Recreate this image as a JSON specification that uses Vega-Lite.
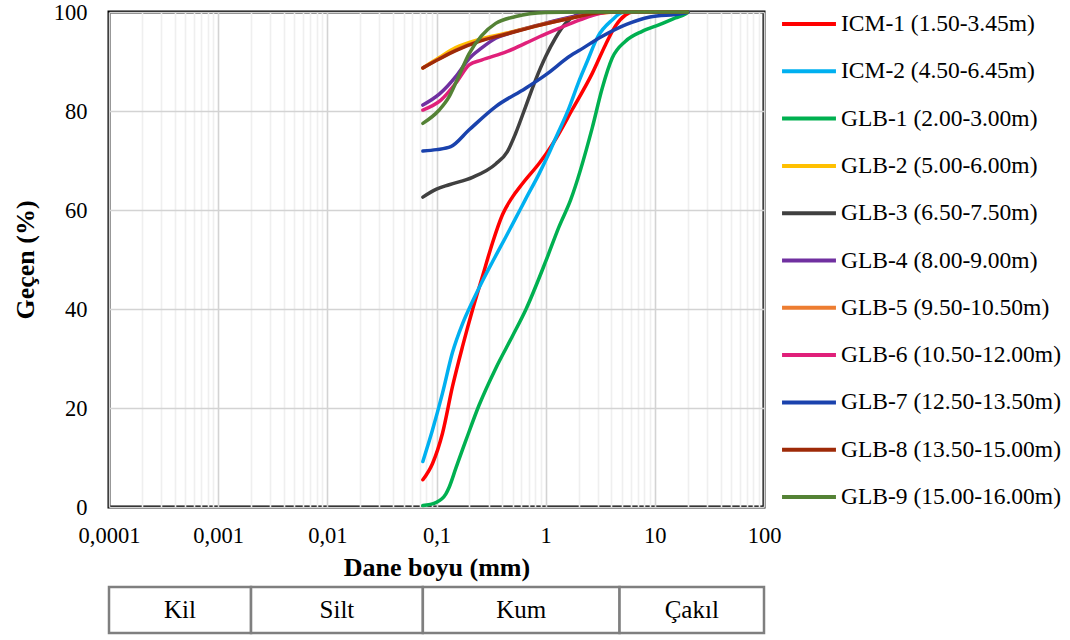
{
  "$schema": "https://vega.github.io/schema/vega-lite/v6.json",
  "background": "white",
  "padding": {"left": 10, "top": -2, "right": 5, "bottom": 5},
  "config": {
    "font": "Liberation Serif",
    "axis": {"labelFont": "Liberation Serif", "titleFont": "Liberation Serif", "labelColor": "#000", "titleColor": "#000"},
    "legend": {"labelFont": "Liberation Serif", "labelColor": "#000"}
  },
  "spacing": 3,
  "vconcat": [
    {
      "width": 655,
      "height": 495,
      "view": {"stroke": "#000", "strokeWidth": 3},
      "data": {"values": [
        {"s": "ICM-1 (1.50-3.45m)", "d": 0.075, "p": 5.5},
        {"s": "ICM-1 (1.50-3.45m)", "d": 0.092, "p": 8.8},
        {"s": "ICM-1 (1.50-3.45m)", "d": 0.1135, "p": 14.9},
        {"s": "ICM-1 (1.50-3.45m)", "d": 0.14, "p": 24.3},
        {"s": "ICM-1 (1.50-3.45m)", "d": 0.173, "p": 32.4},
        {"s": "ICM-1 (1.50-3.45m)", "d": 0.2135, "p": 39.8},
        {"s": "ICM-1 (1.50-3.45m)", "d": 0.263, "p": 46.5},
        {"s": "ICM-1 (1.50-3.45m)", "d": 0.325, "p": 53.3},
        {"s": "ICM-1 (1.50-3.45m)", "d": 0.401, "p": 59.0},
        {"s": "ICM-1 (1.50-3.45m)", "d": 0.4955, "p": 62.6},
        {"s": "ICM-1 (1.50-3.45m)", "d": 0.6115, "p": 65.3},
        {"s": "ICM-1 (1.50-3.45m)", "d": 0.8695, "p": 69.4},
        {"s": "ICM-1 (1.50-3.45m)", "d": 1.0, "p": 71.2},
        {"s": "ICM-1 (1.50-3.45m)", "d": 1.233, "p": 74.3},
        {"s": "ICM-1 (1.50-3.45m)", "d": 1.753, "p": 80.3},
        {"s": "ICM-1 (1.50-3.45m)", "d": 2.671, "p": 87.6},
        {"s": "ICM-1 (1.50-3.45m)", "d": 3.535, "p": 93.4},
        {"s": "ICM-1 (1.50-3.45m)", "d": 4.363, "p": 97.2},
        {"s": "ICM-1 (1.50-3.45m)", "d": 5.386, "p": 99.4},
        {"s": "ICM-1 (1.50-3.45m)", "d": 6.2, "p": 100},
        {"s": "ICM-1 (1.50-3.45m)", "d": 20, "p": 100},

        {"s": "ICM-2 (4.50-6.45m)", "d": 0.075, "p": 9.2},
        {"s": "ICM-2 (4.50-6.45m)", "d": 0.092, "p": 15.6},
        {"s": "ICM-2 (4.50-6.45m)", "d": 0.1135, "p": 23.0},
        {"s": "ICM-2 (4.50-6.45m)", "d": 0.14, "p": 31.2},
        {"s": "ICM-2 (4.50-6.45m)", "d": 0.173, "p": 37.0},
        {"s": "ICM-2 (4.50-6.45m)", "d": 0.2135, "p": 41.5},
        {"s": "ICM-2 (4.50-6.45m)", "d": 0.263, "p": 45.6},
        {"s": "ICM-2 (4.50-6.45m)", "d": 0.325, "p": 49.5},
        {"s": "ICM-2 (4.50-6.45m)", "d": 0.43, "p": 54.5},
        {"s": "ICM-2 (4.50-6.45m)", "d": 0.53, "p": 58.3},
        {"s": "ICM-2 (4.50-6.45m)", "d": 0.655, "p": 62.2},
        {"s": "ICM-2 (4.50-6.45m)", "d": 0.87, "p": 67.3},
        {"s": "ICM-2 (4.50-6.45m)", "d": 1.08, "p": 71.6},
        {"s": "ICM-2 (4.50-6.45m)", "d": 1.233, "p": 74.5},
        {"s": "ICM-2 (4.50-6.45m)", "d": 1.635, "p": 80.6},
        {"s": "ICM-2 (4.50-6.45m)", "d": 2.0, "p": 85.8},
        {"s": "ICM-2 (4.50-6.45m)", "d": 2.4, "p": 90.0},
        {"s": "ICM-2 (4.50-6.45m)", "d": 3.0, "p": 95.0},
        {"s": "ICM-2 (4.50-6.45m)", "d": 4.07, "p": 98.4},
        {"s": "ICM-2 (4.50-6.45m)", "d": 5.0, "p": 99.9},
        {"s": "ICM-2 (4.50-6.45m)", "d": 5.5, "p": 100},
        {"s": "ICM-2 (4.50-6.45m)", "d": 20, "p": 100},

        {"s": "GLB-1 (2.00-3.00m)", "d": 0.075, "p": 0.3},
        {"s": "GLB-1 (2.00-3.00m)", "d": 0.0985, "p": 0.9},
        {"s": "GLB-1 (2.00-3.00m)", "d": 0.1216, "p": 2.6},
        {"s": "GLB-1 (2.00-3.00m)", "d": 0.1306, "p": 4.0},
        {"s": "GLB-1 (2.00-3.00m)", "d": 0.1502, "p": 7.8},
        {"s": "GLB-1 (2.00-3.00m)", "d": 0.173, "p": 11.6},
        {"s": "GLB-1 (2.00-3.00m)", "d": 0.1854, "p": 13.4},
        {"s": "GLB-1 (2.00-3.00m)", "d": 0.2458, "p": 20.6},
        {"s": "GLB-1 (2.00-3.00m)", "d": 0.3486, "p": 28.0},
        {"s": "GLB-1 (2.00-3.00m)", "d": 0.4955, "p": 34.5},
        {"s": "GLB-1 (2.00-3.00m)", "d": 0.6556, "p": 39.8},
        {"s": "GLB-1 (2.00-3.00m)", "d": 1.0, "p": 49.6},
        {"s": "GLB-1 (2.00-3.00m)", "d": 1.324, "p": 56.6},
        {"s": "GLB-1 (2.00-3.00m)", "d": 1.69, "p": 62.0},
        {"s": "GLB-1 (2.00-3.00m)", "d": 2.671, "p": 76.6},
        {"s": "GLB-1 (2.00-3.00m)", "d": 3.296, "p": 84.6},
        {"s": "GLB-1 (2.00-3.00m)", "d": 4.07, "p": 90.7},
        {"s": "GLB-1 (2.00-3.00m)", "d": 5.386, "p": 94.1},
        {"s": "GLB-1 (2.00-3.00m)", "d": 7.655, "p": 96.1},
        {"s": "GLB-1 (2.00-3.00m)", "d": 10.88, "p": 97.4},
        {"s": "GLB-1 (2.00-3.00m)", "d": 15.43, "p": 98.8},
        {"s": "GLB-1 (2.00-3.00m)", "d": 19.05, "p": 99.6},
        {"s": "GLB-1 (2.00-3.00m)", "d": 20.2, "p": 100},

        {"s": "GLB-2 (5.00-6.00m)", "d": 0.075, "p": 88.7},
        {"s": "GLB-2 (5.00-6.00m)", "d": 0.106, "p": 90.8},
        {"s": "GLB-2 (5.00-6.00m)", "d": 0.15, "p": 92.8},
        {"s": "GLB-2 (5.00-6.00m)", "d": 0.25, "p": 94.5},
        {"s": "GLB-2 (5.00-6.00m)", "d": 0.43, "p": 95.7},
        {"s": "GLB-2 (5.00-6.00m)", "d": 0.87, "p": 97.4},
        {"s": "GLB-2 (5.00-6.00m)", "d": 2.0, "p": 99.2},
        {"s": "GLB-2 (5.00-6.00m)", "d": 3.0, "p": 99.8},
        {"s": "GLB-2 (5.00-6.00m)", "d": 4.75, "p": 100},
        {"s": "GLB-2 (5.00-6.00m)", "d": 20, "p": 100},

        {"s": "GLB-3 (6.50-7.50m)", "d": 0.075, "p": 62.6},
        {"s": "GLB-3 (6.50-7.50m)", "d": 0.1, "p": 64.2},
        {"s": "GLB-3 (6.50-7.50m)", "d": 0.1306, "p": 65.1},
        {"s": "GLB-3 (6.50-7.50m)", "d": 0.2135, "p": 66.6},
        {"s": "GLB-3 (6.50-7.50m)", "d": 0.3486, "p": 69.3},
        {"s": "GLB-3 (6.50-7.50m)", "d": 0.446, "p": 71.8},
        {"s": "GLB-3 (6.50-7.50m)", "d": 0.531, "p": 75.5},
        {"s": "GLB-3 (6.50-7.50m)", "d": 0.6556, "p": 80.9},
        {"s": "GLB-3 (6.50-7.50m)", "d": 0.809, "p": 86.3},
        {"s": "GLB-3 (6.50-7.50m)", "d": 1.0, "p": 91.0},
        {"s": "GLB-3 (6.50-7.50m)", "d": 1.233, "p": 94.8},
        {"s": "GLB-3 (6.50-7.50m)", "d": 1.52, "p": 97.7},
        {"s": "GLB-3 (6.50-7.50m)", "d": 1.879, "p": 99.3},
        {"s": "GLB-3 (6.50-7.50m)", "d": 2.5, "p": 100},
        {"s": "GLB-3 (6.50-7.50m)", "d": 20, "p": 100},

        {"s": "GLB-4 (8.00-9.00m)", "d": 0.075, "p": 81.2},
        {"s": "GLB-4 (8.00-9.00m)", "d": 0.1059, "p": 83.4},
        {"s": "GLB-4 (8.00-9.00m)", "d": 0.1546, "p": 87.3},
        {"s": "GLB-4 (8.00-9.00m)", "d": 0.1991, "p": 90.6},
        {"s": "GLB-4 (8.00-9.00m)", "d": 0.258, "p": 92.7},
        {"s": "GLB-4 (8.00-9.00m)", "d": 0.3486, "p": 94.7},
        {"s": "GLB-4 (8.00-9.00m)", "d": 0.45, "p": 95.6},
        {"s": "GLB-4 (8.00-9.00m)", "d": 0.87, "p": 97.4},
        {"s": "GLB-4 (8.00-9.00m)", "d": 2.0, "p": 99.3},
        {"s": "GLB-4 (8.00-9.00m)", "d": 4.0, "p": 100},
        {"s": "GLB-4 (8.00-9.00m)", "d": 20, "p": 100},

        {"s": "GLB-5 (9.50-10.50m)", "d": 0.075, "p": 88.7},
        {"s": "GLB-5 (9.50-10.50m)", "d": 0.106, "p": 90.6},
        {"s": "GLB-5 (9.50-10.50m)", "d": 0.15, "p": 92.3},
        {"s": "GLB-5 (9.50-10.50m)", "d": 0.25, "p": 94.2},
        {"s": "GLB-5 (9.50-10.50m)", "d": 0.43, "p": 95.6},
        {"s": "GLB-5 (9.50-10.50m)", "d": 0.87, "p": 97.3},
        {"s": "GLB-5 (9.50-10.50m)", "d": 2.0, "p": 99.1},
        {"s": "GLB-5 (9.50-10.50m)", "d": 3.0, "p": 99.7},
        {"s": "GLB-5 (9.50-10.50m)", "d": 5.0, "p": 100},
        {"s": "GLB-5 (9.50-10.50m)", "d": 20, "p": 100},

        {"s": "GLB-6 (10.50-12.00m)", "d": 0.075, "p": 80.2},
        {"s": "GLB-6 (10.50-12.00m)", "d": 0.1096, "p": 82.2},
        {"s": "GLB-6 (10.50-12.00m)", "d": 0.1546, "p": 86.0},
        {"s": "GLB-6 (10.50-12.00m)", "d": 0.1991, "p": 89.3},
        {"s": "GLB-6 (10.50-12.00m)", "d": 0.258, "p": 90.3},
        {"s": "GLB-6 (10.50-12.00m)", "d": 0.44, "p": 92.0},
        {"s": "GLB-6 (10.50-12.00m)", "d": 0.6556, "p": 93.7},
        {"s": "GLB-6 (10.50-12.00m)", "d": 0.875, "p": 95.0},
        {"s": "GLB-6 (10.50-12.00m)", "d": 1.324, "p": 96.7},
        {"s": "GLB-6 (10.50-12.00m)", "d": 2.06, "p": 98.4},
        {"s": "GLB-6 (10.50-12.00m)", "d": 3.1, "p": 99.7},
        {"s": "GLB-6 (10.50-12.00m)", "d": 4.0, "p": 100},
        {"s": "GLB-6 (10.50-12.00m)", "d": 20, "p": 100},

        {"s": "GLB-7 (12.50-13.50m)", "d": 0.075, "p": 71.9},
        {"s": "GLB-7 (12.50-13.50m)", "d": 0.1, "p": 72.2},
        {"s": "GLB-7 (12.50-13.50m)", "d": 0.1351, "p": 72.8},
        {"s": "GLB-7 (12.50-13.50m)", "d": 0.1991, "p": 76.2},
        {"s": "GLB-7 (12.50-13.50m)", "d": 0.3486, "p": 80.9},
        {"s": "GLB-7 (12.50-13.50m)", "d": 0.6556, "p": 84.6},
        {"s": "GLB-7 (12.50-13.50m)", "d": 1.0, "p": 87.3},
        {"s": "GLB-7 (12.50-13.50m)", "d": 1.7, "p": 91.2},
        {"s": "GLB-7 (12.50-13.50m)", "d": 2.02, "p": 92.2},
        {"s": "GLB-7 (12.50-13.50m)", "d": 3.3, "p": 95.1},
        {"s": "GLB-7 (12.50-13.50m)", "d": 5.5, "p": 97.5},
        {"s": "GLB-7 (12.50-13.50m)", "d": 9.0, "p": 99.0},
        {"s": "GLB-7 (12.50-13.50m)", "d": 17.8, "p": 99.7},
        {"s": "GLB-7 (12.50-13.50m)", "d": 20.2, "p": 100},

        {"s": "GLB-8 (13.50-15.00m)", "d": 0.075, "p": 88.7},
        {"s": "GLB-8 (13.50-15.00m)", "d": 0.1059, "p": 90.5},
        {"s": "GLB-8 (13.50-15.00m)", "d": 0.15, "p": 92.2},
        {"s": "GLB-8 (13.50-15.00m)", "d": 0.25, "p": 94.1},
        {"s": "GLB-8 (13.50-15.00m)", "d": 0.43, "p": 95.5},
        {"s": "GLB-8 (13.50-15.00m)", "d": 0.87, "p": 97.3},
        {"s": "GLB-8 (13.50-15.00m)", "d": 2.0, "p": 99.1},
        {"s": "GLB-8 (13.50-15.00m)", "d": 2.9, "p": 99.8},
        {"s": "GLB-8 (13.50-15.00m)", "d": 4.0, "p": 100},
        {"s": "GLB-8 (13.50-15.00m)", "d": 20, "p": 100},

        {"s": "GLB-9 (15.00-16.00m)", "d": 0.075, "p": 77.5},
        {"s": "GLB-9 (15.00-16.00m)", "d": 0.1059, "p": 80.2},
        {"s": "GLB-9 (15.00-16.00m)", "d": 0.1306, "p": 82.9},
        {"s": "GLB-9 (15.00-16.00m)", "d": 0.1546, "p": 86.3},
        {"s": "GLB-9 (15.00-16.00m)", "d": 0.1991, "p": 91.6},
        {"s": "GLB-9 (15.00-16.00m)", "d": 0.258, "p": 95.2},
        {"s": "GLB-9 (15.00-16.00m)", "d": 0.3486, "p": 97.7},
        {"s": "GLB-9 (15.00-16.00m)", "d": 0.531, "p": 99.1},
        {"s": "GLB-9 (15.00-16.00m)", "d": 1.0, "p": 99.9},
        {"s": "GLB-9 (15.00-16.00m)", "d": 2.0, "p": 100},
        {"s": "GLB-9 (15.00-16.00m)", "d": 20, "p": 100}
      ]},
      "mark": {"type": "line", "interpolate": "monotone", "strokeWidth": 3.5, "strokeCap": "round", "clip": false},
      "encoding": {
        "x": {
          "field": "d",
          "type": "quantitative",
          "scale": {"type": "log", "domain": [0.0001, 100], "nice": false},
          "axis": {
            "values": [0.0001, 0.0002, 0.0003, 0.0004, 0.0005, 0.0006, 0.0007, 0.0008, 0.0009,
                       0.001, 0.002, 0.003, 0.004, 0.005, 0.006, 0.007, 0.008, 0.009,
                       0.01, 0.02, 0.03, 0.04, 0.05, 0.06, 0.07, 0.08, 0.09,
                       0.1, 0.2, 0.3, 0.4, 0.5, 0.6, 0.7, 0.8, 0.9,
                       1, 2, 3, 4, 5, 6, 7, 8, 9,
                       10, 20, 30, 40, 50, 60, 70, 80, 90, 100],
            "grid": true,
            "gridColor": {"condition": {"test": "indexof([0.0001, 0.001, 0.01, 0.1, 1, 10, 100], datum.value) >= 0", "value": "#d3d3d3"}, "value": "#efefef"},
            "gridWidth": 1.6,
            "ticks": false,
            "domain": false,
            "labelExpr": "indexof([0.0001, 0.001, 0.01, 0.1, 1, 10, 100], datum.value) >= 0 ? replace(format(datum.value, '~f'), '.', ',') : ''",
            "labelOverlap": false,
            "labelFlush": false,
            "labelFontSize": 22.5,
            "labelPadding": 17,
            "title": "Dane boyu (mm)",
            "titleFontSize": 26,
            "titleFontWeight": "bold",
            "titlePadding": 8
          }
        },
        "y": {
          "field": "p",
          "type": "quantitative",
          "scale": {"domain": [0, 100], "nice": false},
          "axis": {
            "values": [0, 20, 40, 60, 80, 100],
            "grid": true,
            "gridColor": "#d3d3d3",
            "gridWidth": 1.6,
            "ticks": false,
            "domain": false,
            "labelFontSize": 22.5,
            "labelPadding": 22,
            "title": "Geçen (%)",
            "titleFontSize": 26,
            "titleFontWeight": "bold",
            "titlePadding": 15
          }
        },
        "color": {
          "field": "s",
          "type": "nominal",
          "scale": {
            "domain": ["ICM-1 (1.50-3.45m)", "ICM-2 (4.50-6.45m)", "GLB-1 (2.00-3.00m)", "GLB-2 (5.00-6.00m)", "GLB-3 (6.50-7.50m)", "GLB-4 (8.00-9.00m)", "GLB-5 (9.50-10.50m)", "GLB-6 (10.50-12.00m)", "GLB-7 (12.50-13.50m)", "GLB-8 (13.50-15.00m)", "GLB-9 (15.00-16.00m)"],
            "range": ["#ff0000", "#00b0f0", "#00b050", "#ffc000", "#404040", "#7030a0", "#ed7d31", "#e0207a", "#1a42ad", "#9e2a08", "#548235"]
          },
          "legend": {
            "title": null,
            "orient": "none",
            "legendX": 674,
            "legendY": -14,
            "symbolType": "M-1.14,0H1.14",
            "symbolSize": 2237,
            "symbolStrokeWidth": 4,
            "labelFontSize": 23.5,
            "labelOffset": 6,
            "labelLimit": 0,
            "rowPadding": 9.3,
            "padding": 0
          }
        }
      }
    },
    {
      "width": 655,
      "height": 46,
      "view": {"stroke": null},
      "data": {"values": [
        {"zone": "Kil", "lo": 0.0001, "hi": 0.002},
        {"zone": "Silt", "lo": 0.002, "hi": 0.075},
        {"zone": "Kum", "lo": 0.075, "hi": 4.75},
        {"zone": "Çakıl", "lo": 4.75, "hi": 100}
      ]},
      "transform": [{"calculate": "sqrt(datum.lo * datum.hi)", "as": "mid"}],
      "layer": [
        {
          "mark": {"type": "rect", "fill": "white", "stroke": "#7f7f7f", "strokeWidth": 2.5},
          "encoding": {
            "x": {"field": "lo", "type": "quantitative", "scale": {"type": "log", "domain": [0.0001, 100], "nice": false}, "axis": null},
            "x2": {"field": "hi"}
          }
        },
        {
          "mark": {"type": "text", "fontSize": 25, "font": "Liberation Serif", "color": "#000"},
          "encoding": {
            "x": {"field": "mid", "type": "quantitative", "scale": {"type": "log", "domain": [0.0001, 100], "nice": false}, "axis": null},
            "text": {"field": "zone"}
          }
        }
      ]
    }
  ]
}
